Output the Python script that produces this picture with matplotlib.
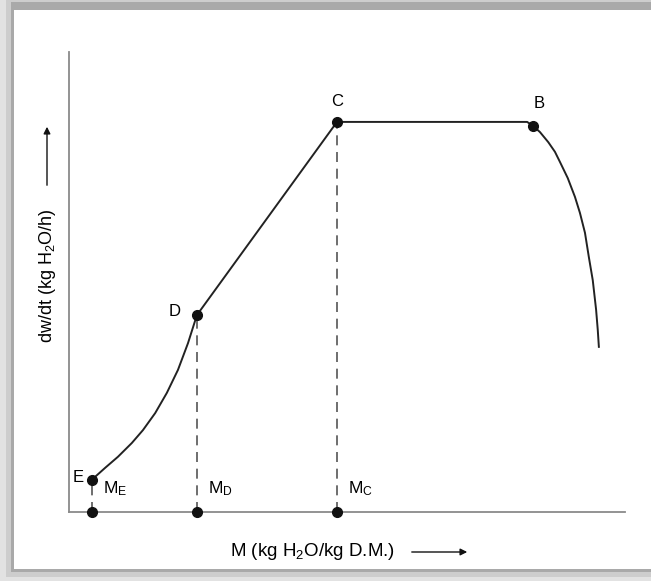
import matplotlib
matplotlib.use('Agg')
import matplotlib.pyplot as plt
from matplotlib.patches import Rectangle, FancyArrowPatch

plt.rcParams['font.family'] = ['Liberation Sans', 'DejaVu Sans']
plt.rcParams['mathtext.fontset'] = 'custom'
plt.rcParams['mathtext.rm'] = 'Liberation Sans'
plt.rcParams['mathtext.it'] = 'Liberation Sans'

# drying rate curve (arbitrary units, 0..100)
curve_x = [4.1, 6.5, 8.8, 11.3, 13.3, 15.5, 17.6, 19.6, 21.4, 23.0,
           48.2, 82.4, 83.5, 84.7, 86.2, 87.4, 88.3, 89.7, 91.0, 91.9,
           92.8, 93.5, 94.2, 94.8, 95.1, 95.3]
curve_y = [7.0, 9.6, 12.0, 15.0, 17.8, 21.5, 25.9, 30.9, 36.7, 42.8,
           84.8, 84.8, 83.9, 82.6, 80.4, 78.3, 76.1, 72.6, 68.5, 65.0,
           60.7, 55.4, 50.4, 44.0, 39.6, 35.9]

# named points
pt_names = ['E', 'D', 'C', 'B']
pt_x = [4.1, 23.0, 48.2, 83.5]
pt_y = [7.0, 42.8, 84.8, 83.9]

# moisture markers on the x axis
m_names = ['$\\mathregular{M_E}$', '$\\mathregular{M_D}$', '$\\mathregular{M_C}$']
m_x = [4.1, 23.0, 48.2]
m_top = [7.0, 42.8, 84.8]

W, H = 651, 581
fig = plt.figure(figsize=(W / 100, H / 100), dpi=100)
fig.patch.set_facecolor('#e2e2e2')

# shadow frame round the white panel
fig.patches.append(Rectangle((6 / W, 4 / H), 1, 1, transform=fig.transFigure,
                             facecolor='#cdcdcd', edgecolor='none', zorder=-4))
fig.patches.append(Rectangle((11 / W, 9 / H), 1, (H - 11) / H,
                             transform=fig.transFigure,
                             facecolor='#a9a9a9', edgecolor='none', zorder=-3))
fig.patches.append(Rectangle((14 / W, 12 / H), 1, (H - 22) / H,
                             transform=fig.transFigure,
                             facecolor='white', edgecolor='none', zorder=-2))

ax = fig.add_axes([69 / W, (H - 512) / H, (625 - 69) / W, (512 - 52) / H])
ax.set_facecolor('none')
ax.set_xlim(0, 100)
ax.set_ylim(0, 100)
for s in ['top', 'right']:
    ax.spines[s].set_visible(False)
for s in ['left', 'bottom']:
    ax.spines[s].set_color('#8a8a8a')
    ax.spines[s].set_linewidth(1.3)
ax.set_xticks([])
ax.set_yticks([])

ax.plot(curve_x, curve_y, color='#222222', lw=1.4, zorder=3)

for x, top in zip(m_x, m_top):
    ax.plot([x, x], [0, top], color='#555555', lw=1.2,
            dashes=(6, 4), zorder=2)

ax.plot(pt_x, pt_y, 'o', color='#111111', ms=7, zorder=4, clip_on=False)
ax.plot(m_x, [0] * len(m_x), 'o', color='#111111', ms=7, zorder=4,
        clip_on=False)

# point letters
ax.text(pt_x[0] - 2.4, pt_y[0] + 0.5, pt_names[0], fontsize=12,
        ha='center', va='center')
ax.text(pt_x[1] - 4.0, pt_y[1] + 0.8, pt_names[1], fontsize=12,
        ha='center', va='center')
ax.text(pt_x[2], pt_y[2] + 4.5, pt_names[2], fontsize=12,
        ha='center', va='center')
ax.text(pt_x[3] + 1.0, pt_y[3] + 5.0, pt_names[3], fontsize=12,
        ha='center', va='center')

for name, x in zip(m_names, m_x):
    ax.text(x + 2.0, 5.0, name, fontsize=12.5, ha='left', va='center')

# axis titles with arrows
fig.text(313 / W, 1 - 552 / H, 'M (kg H$_2$O/kg D.M.)', fontsize=13.5,
         ha='center', va='center')
fig.add_artist(FancyArrowPatch(
    (409 / W, 1 - 552 / H), (470 / W, 1 - 552 / H),
    transform=fig.transFigure, arrowstyle='-|>', mutation_scale=10,
    color='#111111', lw=1.0))

fig.text(47 / W, 1 - 276 / H, 'dw/dt (kg H$_2$O/h)', fontsize=13,
         ha='center', va='center', rotation=90)
fig.add_artist(FancyArrowPatch(
    (47 / W, 1 - 188 / H), (47 / W, 1 - 124 / H),
    transform=fig.transFigure, arrowstyle='-|>', mutation_scale=10,
    color='#111111', lw=1.0))

fig.savefig('out.png', dpi=100)
